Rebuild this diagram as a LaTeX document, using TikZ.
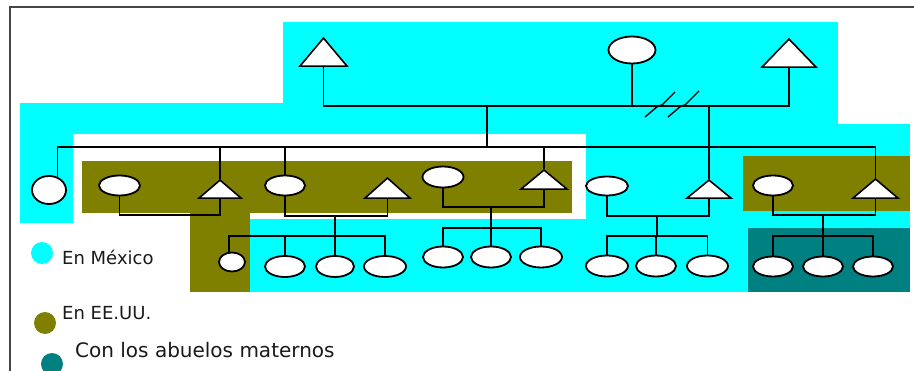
\documentclass[tikz,border=0pt]{standalone}
\usepackage{fontspec}
\setmainfont{DejaVu Sans}
\usetikzlibrary{shapes.geometric}
\definecolor{cyanbg}{RGB}{0,255,255}
\definecolor{olivebg}{RGB}{128,128,0}
\definecolor{tealbg}{RGB}{0,128,128}
\definecolor{framegray}{RGB}{70,70,70}
\begin{document}
\begin{tikzpicture}[x=1pt,y=-1pt,
  ln/.style={line width=1.8pt,line cap=rect},
  fem/.style={ellipse,draw,fill=white,line width=1.8pt,inner sep=0pt},
  mal/.style={isosceles triangle,isosceles triangle stretches,shape border rotate=90,draw,fill=white,line width=1.6pt,inner sep=0pt,anchor=apex},
  leg/.style={circle,inner sep=0pt,minimum size=22pt},
  lab/.style={anchor=west,font=\fontsize{18}{20}\selectfont,inner sep=0pt,text=black!90}]
\useasboundingbox (0,0) rectangle (914,371);
% coloured areas
\fill[cyanbg] (283,22) rectangle (838,134);
\fill[cyanbg] (20,103) rectangle (838,134);
\fill[cyanbg] (20,103) rectangle (73,223);
\fill[cyanbg] (586,124) rectangle (910,292);
\fill[cyanbg] (250,219) rectangle (586,292);
\fill[olivebg] (82,161) rectangle (572,213);
\fill[olivebg] (190,213) rectangle (250,292);
\fill[olivebg] (743,156) rectangle (910,211);
\fill[tealbg] (748,228) rectangle (910,292);
% frame
\draw[framegray,line width=1.5pt] (10,371) -- (10,7) -- (914,7);
% generation 1
\node[mal,minimum width=47pt,minimum height=28pt] (T1) at (323.5,36) {};
\node[fem,minimum width=47pt,minimum height=27pt] (F0) at (632,50) {};
\node[mal,minimum width=54pt,minimum height=28pt] (T3) at (789,37) {};
% generation 2
\node[fem,minimum width=34pt,minimum height=28pt] (L) at (49,190) {};
\node[fem,minimum width=41pt,minimum height=20pt] (A1) at (119.5,185.5) {};
\node[mal,minimum width=42pt,minimum height=18pt] (AT) at (220,178) {};
\node[fem,minimum width=40pt,minimum height=20pt] (B1) at (285,185.5) {};
\node[mal,minimum width=45pt,minimum height=20pt] (BT) at (387.5,176) {};
\node[fem,minimum width=41pt,minimum height=21pt] (C1) at (443,177) {};
\node[mal,minimum width=46pt,minimum height=19pt] (CT) at (544,168) {};
\node[fem,minimum width=42pt,minimum height=19pt] (D1) at (607,186) {};
\node[mal,minimum width=44pt,minimum height=18pt] (DT) at (709,178) {};
\node[fem,minimum width=40pt,minimum height=20pt] (E1) at (773,185.5) {};
\node[mal,minimum width=45pt,minimum height=19pt] (ET) at (875.5,177) {};
% generation 3
\node[fem,minimum width=26pt,minimum height=19pt] (b0) at (232,262) {};
\node[fem,minimum width=40pt,minimum height=21pt] (b1) at (285,266.5) {};
\node[fem,minimum width=38pt,minimum height=21pt] (b2) at (335,266.5) {};
\node[fem,minimum width=42pt,minimum height=21pt] (b3) at (385,266.5) {};
\node[fem,minimum width=40pt,minimum height=21pt] (c1) at (443,257) {};
\node[fem,minimum width=40pt,minimum height=21pt] (c2) at (491,257) {};
\node[fem,minimum width=42pt,minimum height=21pt] (c3) at (541,257) {};
\node[fem,minimum width=42pt,minimum height=21pt] (d1) at (607,266) {};
\node[fem,minimum width=40pt,minimum height=21pt] (d2) at (656,266) {};
\node[fem,minimum width=41pt,minimum height=21pt] (d3) at (707.5,266) {};
\node[fem,minimum width=40pt,minimum height=20pt] (e1) at (773,266.5) {};
\node[fem,minimum width=40pt,minimum height=20pt] (e2) at (823,266.5) {};
\node[fem,minimum width=40pt,minimum height=20pt] (e3) at (873,266.5) {};
% levels
\coordinate (mTop) at (0,106);
\coordinate (sib) at (0,147);
\coordinate (dA) at (0,215);
\coordinate (dB) at (0,216);
\coordinate (kB) at (0,236);
\coordinate (dC) at (0,207);
\coordinate (kC) at (0,228);
\coordinate (dD) at (0,216);
\coordinate (kD) at (0,236);
\coordinate (dE) at (0,215);
\coordinate (kE) at (0,236);
\coordinate (g1) at (487,106);
\coordinate (jB) at (335,216);
\coordinate (jC) at (491,207);
\coordinate (jD) at (657,216);
\coordinate (jE) at (823,215);
% generation 1 connectors
\draw[ln] (T1.lower side) |- (T3.lower side |- mTop) -- (T3.lower side);
\draw[ln] (F0.south) -- (F0.south |- mTop);
\draw[ln] (g1) -- (g1 |- sib);
\draw[ln] (DT.apex |- mTop) -- (DT.apex);
% divorce marks
\draw[line width=1.4pt] (645,117) -- (658,106) -- (662,105) -- (675,92);
\draw[line width=1.4pt] (668,117) -- (681,106) -- (685,105) -- (699,91);
% sibling line
\draw[ln] (L.57 |- sib) -- (ET.apex |- sib);
\draw[ln] (L.57 |- sib) -- (L.57);
\draw[ln] (AT.apex |- sib) -- (AT.apex);
\draw[ln] (B1.north |- sib) -- (B1.north);
\draw[ln] (CT.apex |- sib) -- (CT.apex);
\draw[ln] (ET.apex |- sib) -- (ET.apex);
% couple A
\draw[ln] (A1.south) |- (AT.lower side |- dA) -- (AT.lower side);
% couple B
\draw[ln] (B1.south) |- (BT.lower side |- dB) -- (BT.lower side);
\draw[ln,line width=2.4pt] (jB) -- (jB |- kB);
\draw[ln] (b0.105 |- kB) -- (b3.north |- kB);
\draw[ln] (b0.105 |- kB) -- (b0.105);
\foreach \c in {b1,b2,b3} \draw[ln] (\c.north |- kB) -- (\c.north);
% couple C
\draw[ln] (C1.south) |- (CT.lower side |- dC) -- (CT.lower side);
\draw[ln] (jC) -- (jC |- kC);
\draw[ln] (c1.north |- kC) -- (c3.north |- kC);
\foreach \c in {c1,c2,c3} \draw[ln] (\c.north |- kC) -- (\c.north);
% couple D
\draw[ln] (D1.south) |- (DT.lower side |- dD) -- (DT.lower side);
\draw[ln] (jD) -- (jD |- kD);
\draw[ln] (d1.north |- kD) -- (d3.north |- kD);
\foreach \c in {d1,d2,d3} \draw[ln] (\c.north |- kD) -- (\c.north);
% couple E
\draw[ln] (E1.south) |- (ET.lower side |- dE) -- (ET.lower side);
\draw[ln] (jE) -- (jE |- kE);
\draw[ln] (e1.north |- kE) -- (e3.north |- kE);
\foreach \c in {e1,e2,e3} \draw[ln] (\c.north |- kE) -- (\c.north);
% legend
\node[leg,fill=cyanbg] (lc) at (42,253) {};
\node[leg,fill=olivebg] (lo) at (45,323) {};
\node[leg,fill=tealbg] (lt) at (52,364) {};
\node[lab] (tc) at (62,257) {En México};
\node[lab] (to) at (62,313) {En EE.UU.};
\node[lab,font=\fontsize{20}{22}\selectfont] (tt) at (75,350) {Con los abuelos maternos};
\end{tikzpicture}
\end{document}
